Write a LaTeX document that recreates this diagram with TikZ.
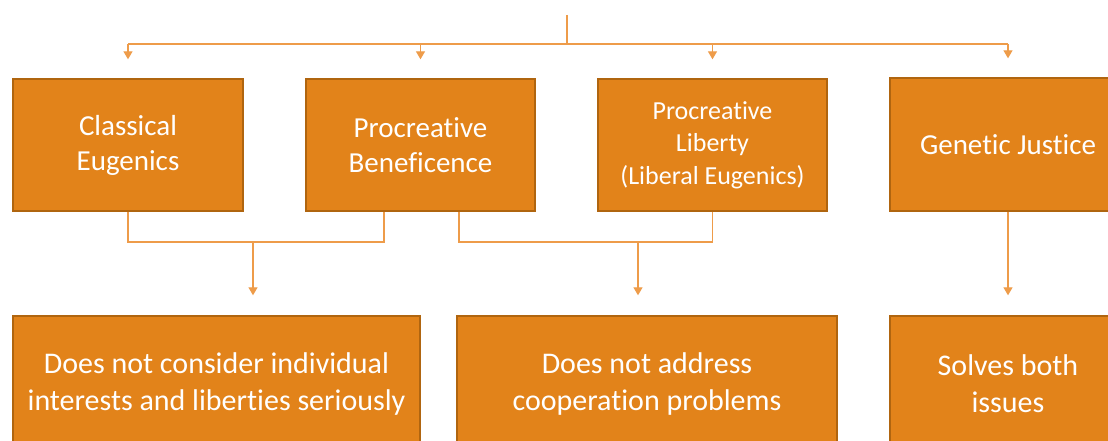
\documentclass[tikz,border=0pt]{standalone}
\usepackage{fontspec}
\setmainfont{Carlito}[Ligatures=NoCommon]
\usetikzlibrary{arrows.meta}
\definecolor{boxfill}{HTML}{E2831A}
\definecolor{boxedge}{HTML}{B0650F}
\definecolor{linkcol}{HTML}{EE9C4A}
\begin{document}
\begin{tikzpicture}[x=1pt,y=-1pt,
  box/.style={draw=boxedge,line width=1.4pt,fill=boxfill,text=white,align=center,
    inner sep=0pt,rectangle},
  topbox/.style={box,font=\fontsize{29}{35}\selectfont},
  smallbox/.style={box,font=\fontsize{26}{32.5}\selectfont},
  lowbox/.style={box,font=\fontsize{30}{37}\selectfont},
  link/.style={draw=linkcol,line width=1.3pt},
  arr/.style={link,-{Triangle[width=9pt,length=8pt]}}]
\clip (0,0) rectangle (1108,441);
\fill[white] (0,0) rectangle (1108,441);

% first row
\node[topbox,minimum width=230pt,minimum height=132pt] (b1) at (128,145) {Classical\\Eugenics};
\node[topbox,minimum width=229pt,minimum height=132pt] (b2) at (420.5,145) {Procreative\\Beneficence};
\node[smallbox,minimum width=229pt,minimum height=132pt] (b3) at (712.5,145) {Procreative\\Liberty\\(Liberal Eugenics)};
\node[topbox,minimum width=236pt,minimum height=133pt] (b4) at (1008,144.5) {Genetic Justice};

% second row
\node[lowbox,minimum width=407pt,minimum height=136pt] (b5) at (216.5,384) {Does not consider individual\\interests and liberties seriously};
\node[lowbox,minimum width=380pt,minimum height=136pt] (b6) at (647,384) {Does not address\\cooperation problems};
\node[lowbox,minimum width=236pt,minimum height=136pt] (b7) at (1008,384) {Solves both\\issues};

% distribution line from the top
\coordinate (root) at (567,15);
\coordinate (hub) at (567,44);
\draw[link] (root) -- (hub);
\draw[link] (b1.north |- hub) -- (b4.north |- hub);
\foreach \b in {b1,b2,b3,b4}
  \draw[arr,shorten >=19pt] (\b.north |- hub) -- (\b.north);

% brackets joining the first row to the second
\coordinate (j1) at (253,242);
\coordinate (j2) at (638,242);
\draw[link] (b1.south) -- (b1.south |- j1) -| ([xshift=-36.5pt]b2.south);
\draw[arr,shorten >=20pt] (j1) -- (j1 |- b5.north);
\draw[link] ([xshift=38.5pt]b2.south) -- ([xshift=38.5pt]b2.south |- j2) -| (b3.south);
\draw[arr,shorten >=20pt] (j2) -- (j2 |- b6.north);
\draw[arr,shorten >=20pt] (b4.south) -- (b7.north);
\end{tikzpicture}
\end{document}
